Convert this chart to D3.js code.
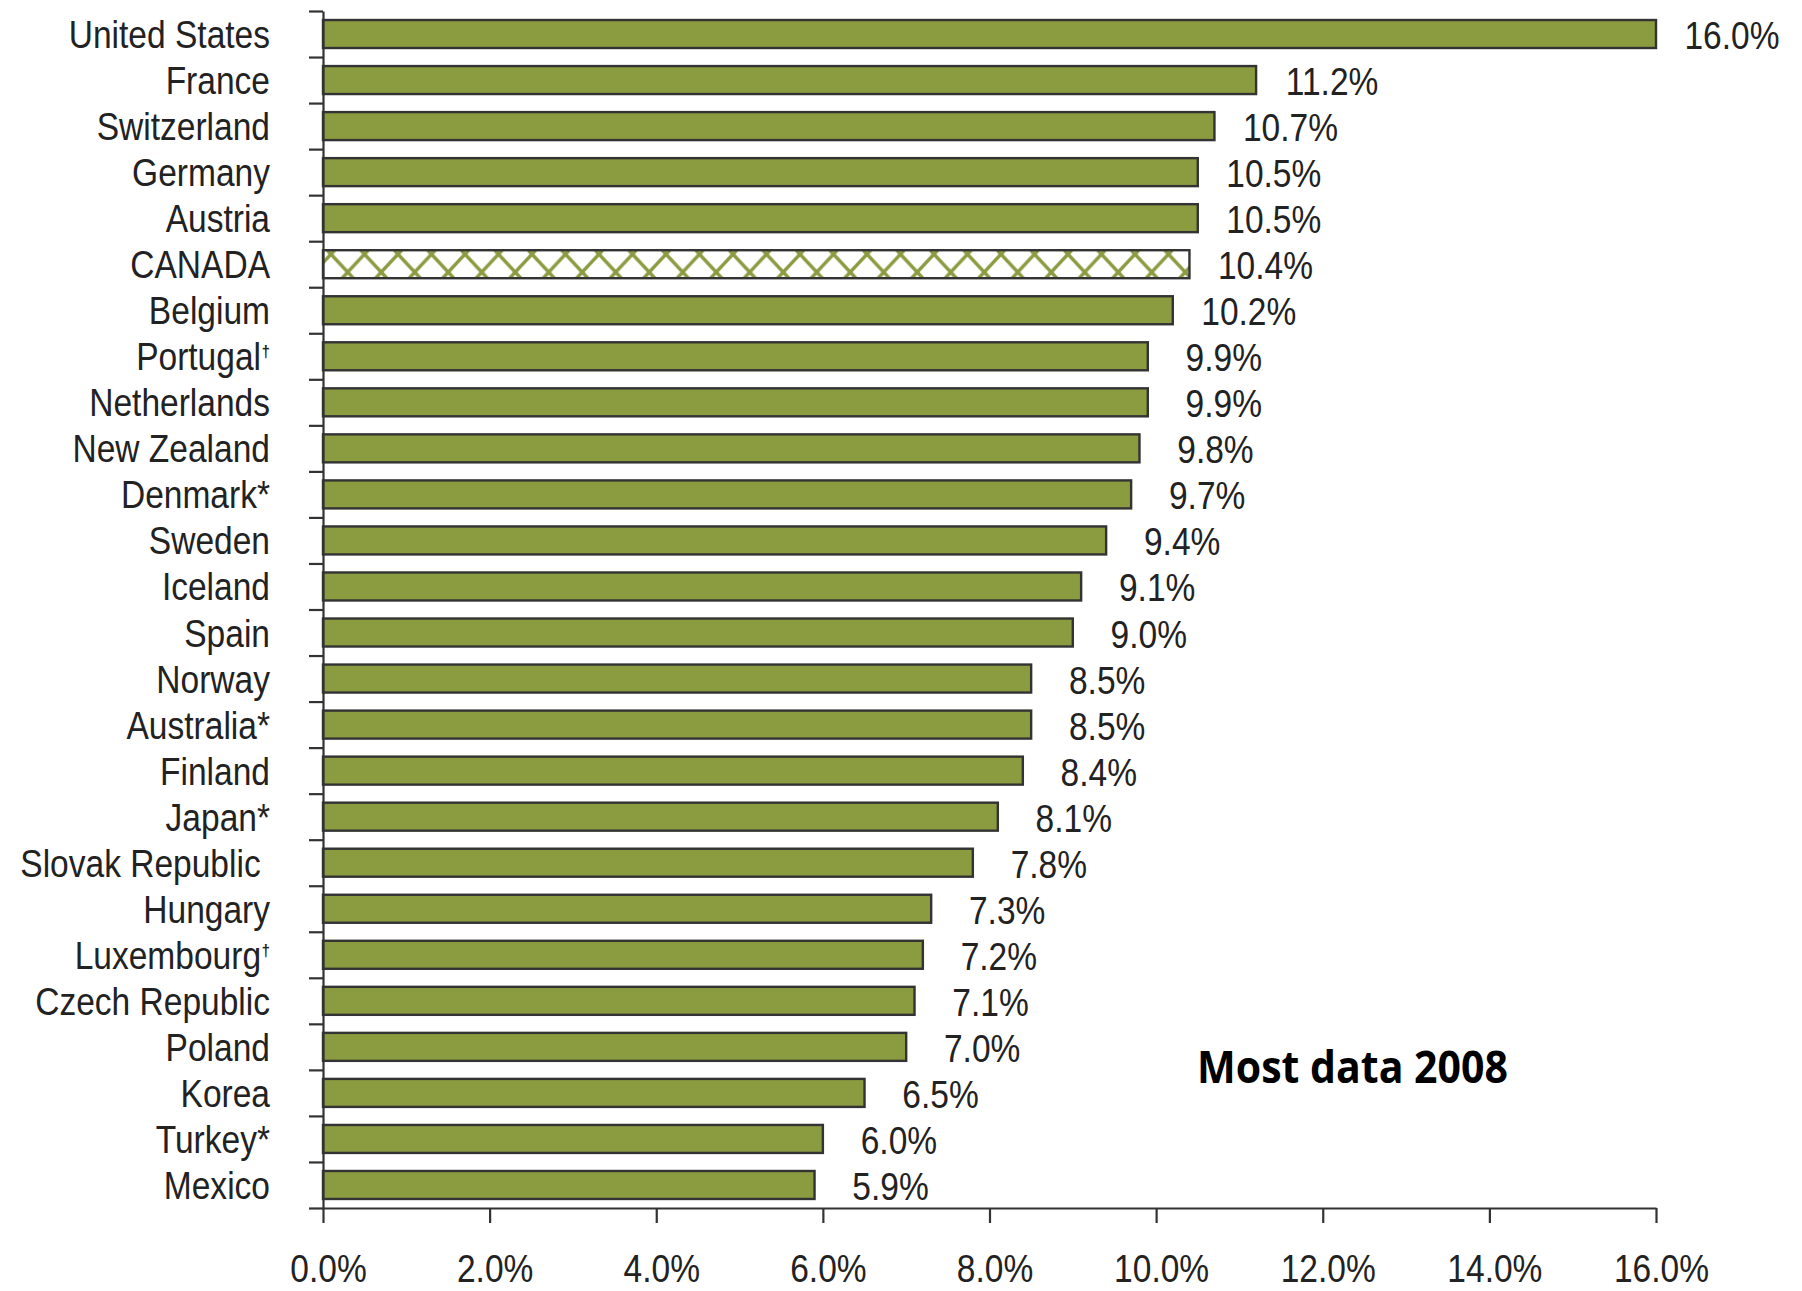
<!DOCTYPE html>
<html>
<head>
<meta charset="utf-8">
<script src="https://cdn.jsdelivr.net/npm/d3@7/dist/d3.min.js"></script>
<style>
  html, body { margin: 0; padding: 0; background: #ffffff; }
  svg { display: block; }
</style>
</head>
<body>
<svg id="chart" width="1802" height="1291"></svg>
<script>
// ---- data ----
const categories = ["United States","France","Switzerland","Germany","Austria","CANADA","Belgium","Portugal†","Netherlands","New Zealand","Denmark*","Sweden","Iceland","Spain","Norway","Australia*","Finland","Japan*","Slovak Republic\u00a0","Hungary","Luxembourg†","Czech Republic","Poland","Korea","Turkey*","Mexico"];
const values = [16.0,11.2,10.7,10.5,10.5,10.4,10.2,9.9,9.9,9.8,9.7,9.4,9.1,9.0,8.5,8.5,8.4,8.1,7.8,7.3,7.2,7.1,7.0,6.5,6.0,5.9];
const xTicks = [0,2,4,6,8,10,12,14,16];
const highlighted = "CANADA";
const note = "Most data 2008";

// ---- layout ----
const W = 1802, H = 1291;
const plot = { left: 323, right: 1656, top: 11, bottom: 1208 };
const BAR = "#8b9b40", INK = "#222222", AXIS = "#333333";
const FONT = "'Liberation Sans', Arial, sans-serif";
const SX = 0.86;

const svg = d3.select("#chart");
svg.append("rect").attr("width", W).attr("height", H).attr("fill", "#ffffff");

const x = d3.scaleLinear().domain([0, 16]).range([plot.left, plot.right]);
const pad = 0.392;
const y = d3.scaleBand().domain(categories).range([plot.top, plot.bottom])
  .paddingInner(pad).paddingOuter(pad / 2);

const data = categories.map((c, i) => ({ c, v: values[i] }));

// pattern for highlighted bar
const defs = svg.append("defs");
const P = 33.5, bh = y.bandwidth();
const pat = defs.append("pattern").attr("id", "cross")
  .attr("patternUnits", "userSpaceOnUse")
  .attr("x", x(0)).attr("y", y(highlighted))
  .attr("width", P).attr("height", bh);
pat.append("rect").attr("width", P).attr("height", bh).attr("fill", "#ffffff");
const s = 0.93;
[-1, 0, 1].forEach(k => {
  pat.append("line").attr("x1", 4.3 + k * P).attr("y1", 0).attr("x2", 4.3 + k * P + bh * s).attr("y2", bh)
    .attr("stroke", BAR).attr("stroke-width", 3.4);
  pat.append("line").attr("x1", 11.7 + k * P).attr("y1", 0).attr("x2", 11.7 + k * P - bh * s).attr("y2", bh)
    .attr("stroke", BAR).attr("stroke-width", 3.4);
});

// bars
svg.append("g").selectAll("rect").data(data).join("rect")
  .attr("x", x(0))
  .attr("y", d => y(d.c))
  .attr("width", d => x(d.v) - x(0))
  .attr("height", y.bandwidth())
  .attr("fill", d => d.c === highlighted ? "url(#cross)" : BAR)
  .attr("stroke", AXIS).attr("stroke-width", 2.4);

// value labels
svg.append("g").selectAll("text").data(data).join("text")
  .attr("transform", d => `translate(${x(d.v) + 76},${y(d.c) + y.bandwidth() / 2 + 15}) scale(${SX},1)`)
  .attr("text-anchor", "middle")
  .attr("font-family", FONT).attr("font-size", 39).attr("fill", INK)
  .text(d => d.v.toFixed(1) + "%");

// x axis
const xAxis = svg.append("g").attr("transform", `translate(0,${plot.bottom})`)
  .call(d3.axisBottom(x).tickValues(xTicks).tickSize(15).tickSizeOuter(0)
    .tickFormat(d => d.toFixed(1) + "%"));
xAxis.select(".domain").attr("stroke", AXIS).attr("stroke-width", 2.2);
xAxis.selectAll(".tick line").attr("stroke", AXIS).attr("stroke-width", 2.2);
xAxis.selectAll(".tick text")
  .attr("y", 0).attr("dy", null)
  .attr("transform", `translate(5,74) scale(${SX},1)`)
  .attr("font-family", FONT).attr("font-size", 39).attr("fill", INK);

// y axis: boundary ticks derived from band scale
const n = categories.length;
const yEdge = d3.scaleLinear().domain([0, n]).range([y.range()[0], y.range()[0] + n * y.step()]);
const yAxis = svg.append("g").attr("transform", `translate(${plot.left},0)`)
  .call(d3.axisLeft(yEdge).tickValues(d3.range(n + 1)).tickSize(14).tickSizeOuter(0).tickFormat(""));
yAxis.select(".domain").attr("stroke", AXIS).attr("stroke-width", 2.2);
yAxis.selectAll(".tick line").attr("stroke", AXIS).attr("stroke-width", 2.2);

// category labels
const lab = svg.append("g").selectAll("text").data(categories).join("text")
  .attr("transform", d => `translate(270,${y(d) + y.bandwidth() / 2 + 14}) scale(${SX},1)`)
  .attr("text-anchor", "end")
  .attr("font-family", FONT).attr("font-size", 39).attr("fill", INK)
  .attr("xml:space", "preserve");
lab.each(function (d) {
  const t = d3.select(this);
  if (d.includes("†")) {
    const base = d.replace("†", "");
    t.append("tspan").text(base);
    t.append("tspan").attr("font-size", 17).attr("font-weight", 700).attr("dx", 1).attr("dy", -13).text("†");
  } else {
    t.text(d);
  }
});

// note
svg.append("text")
  .attr("x", 1197).attr("y", 1083)
  .attr("font-family", "'Open Sans', 'Liberation Sans', sans-serif")
  .attr("font-weight", 700).attr("font-size", 45).attr("fill", "#000")
  .attr("textLength", 311).attr("lengthAdjust", "spacingAndGlyphs")
  .text(note);
</script>
</body>
</html>
